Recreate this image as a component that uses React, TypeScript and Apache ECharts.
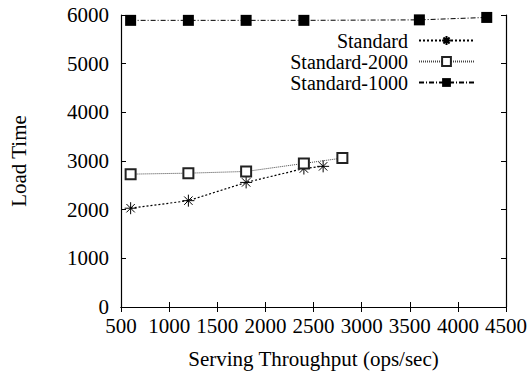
import React, { useEffect, useRef } from "react";
import * as echarts from "echarts";

const stdX = [600, 1200, 1800, 2400, 2600];
const stdY = [2030, 2185, 2560, 2845, 2890];
const std2000X = [600, 1200, 1800, 2400, 2800];
const std2000Y = [2730, 2750, 2785, 2950, 3060];
const std1000X = [600, 1200, 1800, 2400, 3600, 4300];
const std1000Y = [5890, 5890, 5890, 5890, 5900, 5950];
const seriesNames = ["Standard", "Standard-2000", "Standard-1000"];

const FONT = "Liberation Serif";
const FS = 21;
const asterisk = "path://M0,5L10,5M5,0L5,10M1.5,1.5L8.5,8.5M8.5,1.5L1.5,8.5";

const zip = (xs: number[], ys: number[]) => xs.map((x, i) => [x, ys[i]]);

export default function App() {
  const ref = useRef<HTMLDivElement>(null);
  useEffect(() => {
    if (!ref.current) return;
    const chart = echarts.init(ref.current, undefined, { renderer: "svg" });
    const tickAxis = {
      axisLine: { show: true, lineStyle: { color: "#000", width: 1.2 } },
      axisTick: { show: true, inside: true, length: 5, lineStyle: { color: "#000" } },
      splitLine: { show: false },
    };
    const legendBase = (name: string, top: number) => ({
      data: [name],
      right: 52,
      top,
      orient: "vertical",
      align: "right",
      itemWidth: 55,
      itemHeight: 11,
      selectedMode: false,
      textStyle: { fontFamily: FONT, fontSize: 20, lineHeight: 18, color: "#000", padding: [0, 6, 0, 0] },
    });
    const fmt = (v: number) => String(v);
    chart.setOption({
      animation: false,
      backgroundColor: "#fff",
      grid: { left: 117, right: 26, top: 15, bottom: 65.5, containLabel: false },
      legend: [
        legendBase(seriesNames[0], 25.5),
        legendBase(seriesNames[1], 46.5),
        legendBase(seriesNames[2], 67.5),
      ],
      xAxis: [
        {
          type: "value",
          min: 500,
          max: 4500,
          interval: 500,
          position: "bottom",
          name: "Serving Throughput (ops/sec)",
          nameLocation: "middle",
          nameGap: 41,
          nameTextStyle: { fontFamily: FONT, fontSize: FS, color: "#000" },
          axisLabel: { fontFamily: FONT, fontSize: FS, color: "#000", margin: 8, formatter: fmt },
          ...tickAxis,
        },
        {
          type: "value",
          min: 500,
          max: 4500,
          interval: 500,
          position: "top",
          axisLabel: { show: false },
          ...tickAxis,
        },
      ],
      yAxis: [
        {
          type: "value",
          min: 0,
          max: 6000,
          interval: 1000,
          position: "left",
          name: "Load Time",
          nameLocation: "middle",
          nameGap: 92,
          nameTextStyle: { fontFamily: FONT, fontSize: FS, color: "#000" },
          axisLabel: { fontFamily: FONT, fontSize: FS, color: "#000", margin: 12, formatter: fmt },
          ...tickAxis,
        },
        {
          type: "value",
          min: 0,
          max: 6000,
          interval: 1000,
          position: "right",
          axisLabel: { show: false },
          ...tickAxis,
        },
      ],
      series: [
        {
          name: seriesNames[0],
          type: "line",
          data: zip(stdX, stdY),
          symbol: asterisk,
          symbolSize: 12,
          itemStyle: { color: "#000", borderColor: "#000", borderWidth: 1 },
          lineStyle: { color: "#000", width: 1.2, type: [2, 2] },
        },
        {
          name: seriesNames[1],
          type: "line",
          data: zip(std2000X, std2000Y),
          symbol: "emptyRect",
          symbolSize: 10,
          itemStyle: { color: "#222", borderWidth: 1.2 },
          lineStyle: { color: "#444", width: 1, type: [1, 1] },
        },
        {
          name: seriesNames[2],
          type: "line",
          data: zip(std1000X, std1000Y),
          symbol: "rect",
          symbolSize: 11,
          itemStyle: { color: "#000" },
          lineStyle: { color: "#000", width: 1, type: [5, 2, 1, 2] },
        },
      ],
    });
    return () => chart.dispose();
  }, []);
  return <div ref={ref} style={{ width: 532, height: 374, position: "absolute", left: 0, top: 0 }} />;
}
